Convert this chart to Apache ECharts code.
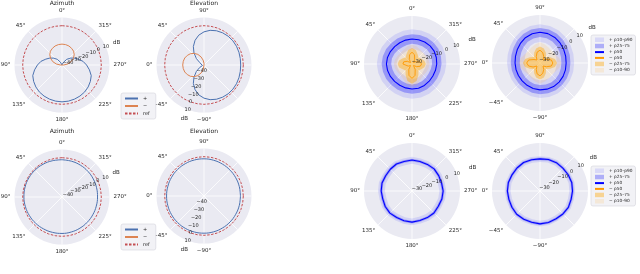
<!DOCTYPE html>
<html><head><meta charset="utf-8">
<script src="https://cdn.jsdelivr.net/npm/echarts@6/dist/echarts.min.js"></script>
<style>html,body{margin:0;padding:0;background:#fff}#c{width:640px;height:274px}</style>
</head><body><div id="c"></div>
<script>
// ---------- data ----------
const ANG10_AZ = [0,10,20,30,40,50,60,70,80,90,100,110,120,130,140,150,160,170,180,190,200,210,220,230,240,250,260,270,280,290,300,310,320,330,340,350,360];
const ANG10_EL = [-180,-170,-160,-150,-140,-130,-120,-110,-100,-90,-80,-70,-60,-50,-40,-30,-20,-10,0,10,20,30,40,50,60,70,80,90,100,110,120,130,140,150,160,170,180];
const ANG15_AZ = [0,15,30,45,60,75,90,105,120,135,150,165,180,195,210,225,240,255,270,285,300,315,330,345,360];
const ANG15_EL = [-180,-165,-150,-135,-120,-105,-90,-75,-60,-45,-30,-15,0,15,30,45,60,75,90,105,120,135,150,165,180];
const ANG_FLAT_AZ = [0,90,180,270,360];
const ANG_FLAT_EL = [-180,-90,0,90,180];
const REF_DB = 0;

// left group, top: Azimuth / Elevation
const AZ1_PLUS  = [-48,-48,-47,-44,-39,-35,-31,-27,-22,-18,-14,-10,-8,-6.3,-5,-4.2,-3.6,-3.2,-3,-3.2,-3.6,-4.2,-5,-6.3,-8,-10,-14,-18,-22,-27,-31,-35,-39,-44,-47,-48,-48];
const AZ1_MINUS = [-22.5,-22.7,-23.3,-24.5,-26,-28.5,-32,-36,-41,-46,-48,-48,-48,-48,-48,-48,-48,-48,-48,-48,-48,-48,-48,-48,-48,-48,-48,-46,-41,-36,-32,-28.5,-26,-24.5,-23.3,-22.7,-22.5];
const EL1_PLUS  = [-3.2,-3,-2.6,-2.2,-2,-2.1,-2.6,-3.5,-5,-7.5,-11,-16,-22,-29,-36,-42,-46,-48,-48,-48,-46,-42,-36,-29,-22,-16,-11,-7.5,-5,-3.5,-2.6,-2.1,-2,-2.2,-2.6,-3,-3.2];
const EL1_MINUS = [-48,-48,-48,-48,-48,-48,-48,-48,-48,-46,-42,-37.5,-33,-29.5,-26.5,-24.5,-23,-22.3,-22,-22.3,-23,-24.5,-26.5,-29.5,-33,-37.5,-42,-46,-48,-48,-48,-48,-48,-48,-48,-48,-48];
// left group, bottom
const AZ2_PLUS  = [-2.5,-2.2,-1.8,-1.5,-1.3,-1.3,-1.5,-1.8,-2.2,-2.6,-3,-3.3,-3.5,-3.8,-4.1,-4.4,-4.6,-4.7,-4.6,-4.3,-3.9,-3.5,-3.1,-2.8,-2.5];
const AZ2_MINUS = [-48,-48,-48,-48,-48];
const EL2_PLUS  = [-3.5,-3.4,-3.3,-3.1,-2.9,-2.7,-2.6,-2.5,-2.4,-2.3,-2.3,-2.3,-2.3,-2.3,-2.3,-2.3,-2.4,-2.5,-2.6,-2.8,-3,-3.2,-3.3,-3.4,-3.5];
const EL2_MINUS = [-48,-48,-48,-48,-48];

// right group, top-left (azimuth style)
const RA_B10 = [-21,-21.5,-22,-22,-21.5,-21,-20.5,-21,-21.5,-22,-22,-21.5,-21,-21,-21.5,-22,-22.5,-22,-21.5,-21,-20.5,-20.5,-21,-21,-21];
const RA_B25 = [-16,-16.5,-16.8,-16.5,-16,-15.5,-15.5,-16,-16.3,-16.5,-16.3,-16,-15.8,-16,-16.3,-16.7,-17,-16.7,-16.2,-15.8,-15.5,-15.5,-15.8,-16,-16];
const RA_B50 = [-11.5,-11.8,-12,-12,-11.6,-11.2,-11,-11.3,-11.6,-11.9,-12,-11.8,-11.5,-11.5,-11.8,-12.2,-12.4,-12.2,-11.8,-11.4,-11,-11,-11.2,-11.4,-11.5];
const RA_B75 = [-7,-7.3,-7.5,-7.4,-7,-6.7,-6.5,-6.8,-7.1,-7.4,-7.5,-7.3,-7,-7,-7.3,-7.7,-7.9,-7.7,-7.3,-6.9,-6.5,-6.5,-6.7,-6.9,-7];
const RA_B90 = [-2.5,-2.8,-3,-2.9,-2.5,-2.2,-2,-2.3,-2.6,-2.9,-3,-2.8,-2.5,-2.5,-2.8,-3.2,-3.4,-3.2,-2.8,-2.4,-2,-2,-2.2,-2.4,-2.5];
const RA_O10 = [-35,-35,-35,-35,-35,-35,-35,-35,-35,-35,-35,-35,-35,-35,-35,-35,-35,-35,-35,-35,-35,-35,-35,-35,-35];
const RA_O25 = [-35,-35,-35,-35,-35,-35,-35,-35,-35,-35,-35,-35,-35,-35,-35,-35,-35,-35,-35,-35,-35,-35,-35,-35,-35];
const RA_O50 = [-24,-26,-30,-33,-30,-27,-26.5,-28,-31,-33,-29,-24,-21.5,-24,-29,-33,-30,-27,-26,-27.5,-31,-33,-30,-26,-24];
const RA_O75 = [-20,-21.5,-24.5,-26.5,-24.5,-22.5,-21.5,-22.5,-25,-26.5,-23,-18.5,-16.5,-18.5,-23,-26.5,-25,-23,-22,-23,-25,-26.5,-24.5,-21.5,-20];
const RA_O90 = [-17,-18,-19.5,-20,-19.5,-18.5,-18,-18.5,-19.5,-20,-18.5,-15.5,-14,-15.5,-18.5,-20,-19.5,-19,-18.5,-19,-19.5,-20,-19.5,-18,-17];

// right group, top-right (elevation style)
const RB_B10 = [-19.5,-19.3,-19,-18.7,-18.5,-18.6,-18.8,-19.2,-19.8,-20.3,-20.6,-20.7,-20.6,-20.2,-19.3,-18,-16.6,-15.6,-15.2,-15.5,-16.3,-17.4,-18.4,-19.1,-19.5];
const RB_B25 = [-15,-14.8,-14.5,-14.2,-14,-14.1,-14.3,-14.7,-15.3,-15.8,-16.1,-16.2,-16.1,-15.7,-14.8,-13.5,-12.1,-11.1,-10.7,-11,-11.8,-12.9,-13.9,-14.6,-15];
const RB_B50 = [-10.5,-10.3,-10,-9.7,-9.5,-9.6,-9.8,-10.2,-10.8,-11.3,-11.6,-11.7,-11.6,-11.2,-10.3,-9,-7.6,-6.6,-6.2,-6.5,-7.3,-8.4,-9.4,-10.1,-10.5];
const RB_B75 = [-6.5,-6.3,-6,-5.7,-5.5,-5.6,-5.8,-6.2,-6.8,-7.3,-7.6,-7.7,-7.6,-7.2,-6.3,-5,-3.6,-2.6,-2.2,-2.5,-3.3,-4.4,-5.4,-6.1,-6.5];
const RB_B90 = [-3,-2.8,-2.5,-2.2,-2,-2.1,-2.3,-2.7,-3.3,-3.8,-4.1,-4.2,-4.1,-3.7,-2.8,-1.5,-0.1,0.9,1.3,1,0.2,-0.9,-1.9,-2.6,-3];
const RB_O10 = [-35,-35,-35,-35,-35,-35,-35,-35,-35,-35,-35,-35,-35,-35,-35,-35,-35,-35,-35,-35,-35,-35,-35,-35,-35];
const RB_O25 = [-35,-35,-35,-35,-35,-35,-35,-35,-35,-35,-35,-35,-35,-35,-35,-35,-35,-35,-35,-35,-35,-35,-35,-35,-35];
const RB_O50 = [-23,-24,-28,-31,-28,-25,-23,-24.5,-28,-31,-27.5,-24,-22.5,-24,-28.5,-31,-28,-24.5,-23,-25,-28,-31,-28,-24,-23];
const RB_O75 = [-19,-20.5,-24,-27,-24,-21,-19.5,-21,-24,-27,-24,-20.5,-19,-20.5,-24,-27,-24,-21,-19.5,-21,-24,-27,-24,-20.5,-19];
const RB_O90 = [-15,-16.5,-18.5,-19.5,-18.5,-17,-15.5,-17,-18.5,-19.5,-18.5,-16.5,-15,-16.5,-18.5,-19.5,-18.5,-17,-15.5,-17,-18.5,-19.5,-18.5,-16.5,-15];

// right group, bottom-left (azimuth style)
const RC_B10 = [-9.5,-9.9,-9.3,-9.7,-10,-9.4,-9.6,-10.1,-9.5,-9.2,-9.8,-9.6,-9.3,-9.9,-9.7,-9.4,-10,-9.5,-9.3,-9.8,-9.6,-9.2,-9.7,-9.9,-9.5];
const RC_B25 = [-7.3,-7.7,-7.1,-7.5,-7.8,-7.2,-7.4,-7.9,-7.3,-7,-7.6,-7.4,-7.1,-7.7,-7.5,-7.2,-7.8,-7.3,-7.1,-7.6,-7.4,-7,-7.5,-7.7,-7.3];
const RC_B50 = [-6,-6.4,-5.8,-6.2,-6.5,-5.9,-6.1,-6.6,-6,-5.7,-6.3,-6.1,-5.8,-6.4,-6.2,-5.9,-6.5,-6,-5.8,-6.3,-6.1,-5.7,-6.2,-6.4,-6];
const RC_B75 = [-4.7,-5.1,-4.5,-4.9,-5.2,-4.6,-4.8,-5.3,-4.7,-4.4,-5,-4.8,-4.5,-5.1,-4.9,-4.6,-5.2,-4.7,-4.5,-5,-4.8,-4.4,-4.9,-5.1,-4.7];
const RC_B90 = [-3,-3.4,-2.8,-3.2,-3.5,-2.9,-3.1,-3.6,-3,-2.7,-3.3,-3.1,-2.8,-3.4,-3.2,-2.9,-3.5,-3,-2.8,-3.3,-3.1,-2.7,-3.2,-3.4,-3];
const RC_O = [-35,-35,-35,-35,-35];

// right group, bottom-right (elevation style)
const RD_B10 = [-7.5,-7.8,-7.3,-7.6,-7.9,-7.4,-7.2,-7.7,-7.5,-7.1,-7.6,-7.8,-7.4,-7.3,-7.7,-7.5,-7.2,-7.6,-7.9,-7.4,-7.3,-7.7,-7.5,-7.2,-7.5];
const RD_B25 = [-5.7,-6,-5.5,-5.8,-6.1,-5.6,-5.4,-5.9,-5.7,-5.3,-5.8,-6,-5.6,-5.5,-5.9,-5.7,-5.4,-5.8,-6.1,-5.6,-5.5,-5.9,-5.7,-5.4,-5.7];
const RD_B50 = [-4.5,-4.8,-4.3,-4.6,-4.9,-4.4,-4.2,-4.7,-4.5,-4.1,-4.6,-4.8,-4.4,-4.3,-4.7,-4.5,-4.2,-4.6,-4.9,-4.4,-4.3,-4.7,-4.5,-4.2,-4.5];
const RD_B75 = [-3.3,-3.6,-3.1,-3.4,-3.7,-3.2,-3,-3.5,-3.3,-2.9,-3.4,-3.6,-3.2,-3.1,-3.5,-3.3,-3,-3.4,-3.7,-3.2,-3.1,-3.5,-3.3,-3,-3.3];
const RD_B90 = [-2,-2.3,-1.8,-2.1,-2.4,-1.9,-1.7,-2.2,-2,-1.6,-2.1,-2.3,-1.9,-1.8,-2.2,-2,-1.7,-2.1,-2.4,-1.9,-1.8,-2.2,-2,-1.7,-2];
const RD_O = [-35,-35,-35,-35,-35];

const TITLES = ['Azimuth','Elevation','Azimuth','Elevation'];
const LEFT_NAMES = ['+','\u2212','ref'];
const RIGHT_NAMES = ['+ p10\u2013p90','+ p25\u201375','+ p50','\u2212 p50','\u2212 p25\u201375','\u2212 p10\u201390'];

// ---------- styling ----------
const TXT = '#262626';
const FONT = 'DejaVu Sans';
const C_PLUS = '#4c72b0', C_MINUS = '#dd8452', C_REF = '#c44e52';
const C_B = '#0000ff', C_O = '#ff9900';
const C_B90 = 'rgba(0,0,255,0.10)', C_B75 = 'rgba(0,0,255,0.28)';
const C_O75 = 'rgba(255,165,0,0.40)', C_O90 = 'rgba(255,180,60,0.16)';

const polars = [], angleAxes = [], radiusAxes = [], series = [];
const fmtAz = v => v >= 360 ? '' : v + '\u00b0';
const fmtEl = v => Math.abs(v) > 90 ? '' : (v < 0 ? '\u2212' + (-v) : v) + '\u00b0';
const fmtR = v => (Math.round(v) % 10 !== 0) ? '' : (v < 0 ? '\u2212' + (-v) : String(v));

function addPlot(cfg) {
  const el = cfg.el;
  const pi = polars.length;
  polars.push({center: [cfg.cx, cfg.cy], radius: cfg.R});
  angleAxes.push({polarIndex: pi, type: 'value', min: el ? -180 : 0, max: el ? 180 : 360, interval: 45,
    startAngle: el ? 0 : 90, clockwise: el, axisLine: {show: false}, axisTick: {show: false},
    axisLabel: {fontSize: 5.5, color: TXT, margin: 4, fontFamily: FONT, formatter: el ? fmtEl : fmtAz},
    splitLine: {show: true, lineStyle: {color: '#ffffff', width: 0.8}}});
  radiusAxes.push({polarIndex: pi, type: 'value', min: cfg.rmin, max: cfg.rmax, splitNumber: cfg.split,
    axisLine: {show: false}, axisTick: {show: false}, axisLabel: {show: false},
    splitLine: {show: true, lineStyle: {color: '#ffffff', width: 0.8}},
    splitArea: {show: true, areaStyle: {color: ['#eaeaf2']}}});
  const li = polars.length;
  polars.push({center: [cfg.cx, cfg.cy], radius: cfg.R});
  angleAxes.push({polarIndex: li, type: 'value', min: 0, max: 360, startAngle: cfg.labAng, show: false});
  radiusAxes.push({polarIndex: li, type: 'value', min: cfg.rmin, max: cfg.rmax, splitNumber: cfg.split, z: 20,
    axisLine: {show: false}, axisTick: {show: false}, splitLine: {show: false},
    axisLabel: {fontSize: 5, color: TXT, fontFamily: FONT, margin: 0, align: 'center', verticalAlign: 'middle',
      showMinLabel: false, formatter: fmtR},
    name: 'dB', nameLocation: 'end', nameGap: cfg.nameGap,
    nameTextStyle: {fontSize: 5.5, color: TXT, fontFamily: FONT, align: 'center', verticalAlign: 'middle'}});
  return pi;
}
function pairs(vals, angs) { return vals.map((v, i) => [v, angs[i]]); }
function lineS(name, pi, angs, vals, color, extra) {
  return Object.assign({type: 'line', name, coordinateSystem: 'polar', polarIndex: pi, data: pairs(vals, angs),
    symbol: 'none', showSymbol: false, lineStyle: {color, width: 1}, itemStyle: {color}, silent: true, z: 6}, extra || {});
}
function bandS(name, pi, angs, lo, hi, color, z) {
  return {type: 'custom', name, coordinateSystem: 'polar', polarIndex: pi, silent: true, z,
    itemStyle: {color}, data: [[hi[0], angs[0]]],
    renderItem(params, api) {
      const pts = [];
      for (let i = 0; i < angs.length; i++) pts.push(api.coord([hi[i], angs[i]]));
      for (let i = angs.length - 1; i >= 0; i--) pts.push(api.coord([lo[i], angs[i]]));
      return {type: 'polygon', shape: {points: pts}, style: {fill: color, stroke: null}};
    }};
}

// left group
const L = {rmin: -48, rmax: 10, split: 6, R: 47.5};
const p0 = addPlot(Object.assign({cx: 62, cy: 65, el: false, labAng: 22.5, nameGap: 9.5}, L));
const p1 = addPlot(Object.assign({cx: 204, cy: 65, el: true, labAng: 250, nameGap: 9.5}, L));
const p2 = addPlot(Object.assign({cx: 62, cy: 197, el: false, labAng: 24, nameGap: 9.5}, L));
const p3 = addPlot(Object.assign({cx: 204, cy: 196, el: true, labAng: 250, nameGap: 9.5}, L));
// right group
const Rg = {rmin: -35, rmax: 10, split: 5, R: 48};
const q0 = addPlot(Object.assign({cx: 412, cy: 64, el: false, labAng: 22.5, nameGap: 17}, Rg));
const q1 = addPlot(Object.assign({cx: 540, cy: 63, el: true, labAng: 34, nameGap: 15}, Rg));
const q2 = addPlot(Object.assign({cx: 412, cy: 191, el: false, labAng: 21, nameGap: 17}, Rg));
const q3 = addPlot(Object.assign({cx: 540, cy: 191, el: true, labAng: 32, nameGap: 15}, Rg));

function refVals(angs) { return angs.map(() => REF_DB); }
const dashed = {lineStyle: {color: C_REF, width: 1, type: [2.5, 1.5]}};
// left series
series.push(lineS('+', p0, ANG10_AZ, AZ1_PLUS, C_PLUS));
series.push(lineS('\u2212', p0, ANG10_AZ, AZ1_MINUS, C_MINUS));
series.push(lineS('ref', p0, ANG10_AZ, refVals(ANG10_AZ), C_REF, dashed));
series.push(lineS('+', p1, ANG10_EL, EL1_PLUS, C_PLUS));
series.push(lineS('\u2212', p1, ANG10_EL, EL1_MINUS, C_MINUS));
series.push(lineS('ref', p1, ANG10_EL, refVals(ANG10_EL), C_REF, dashed));
series.push(lineS('+', p2, ANG15_AZ, AZ2_PLUS, C_PLUS, {smooth: 0.4}));
series.push(lineS('\u2212', p2, ANG_FLAT_AZ, AZ2_MINUS, C_MINUS));
series.push(lineS('ref', p2, ANG10_AZ, refVals(ANG10_AZ), C_REF, dashed));
series.push(lineS('+', p3, ANG15_EL, EL2_PLUS, C_PLUS, {smooth: 0.4}));
series.push(lineS('\u2212', p3, ANG_FLAT_EL, EL2_MINUS, C_MINUS));
series.push(lineS('ref', p3, ANG10_EL, refVals(ANG10_EL), C_REF, dashed));

// right series
function addRight(pi, angs, b10, b25, b50, b75, b90, oangs, o10, o25, o50, o75, o90) {
  series.push(bandS(RIGHT_NAMES[0], pi, angs, b10, b90, C_B90, 2));
  series.push(bandS(RIGHT_NAMES[1], pi, angs, b25, b75, C_B75, 3));
  series.push(bandS(RIGHT_NAMES[5], pi, oangs, o10, o90, C_O90, 4));
  series.push(bandS(RIGHT_NAMES[4], pi, oangs, o25, o75, C_O75, 4));
  series.push(lineS(RIGHT_NAMES[2], pi, angs, b50, C_B, {lineStyle: {color: C_B, width: 1.1}}));
  series.push(lineS(RIGHT_NAMES[3], pi, oangs, o50, C_O, {lineStyle: {color: C_O, width: 0.9}}));
}
addRight(q0, ANG15_AZ, RA_B10, RA_B25, RA_B50, RA_B75, RA_B90, ANG15_AZ, RA_O10, RA_O25, RA_O50, RA_O75, RA_O90);
addRight(q1, ANG15_EL, RB_B10, RB_B25, RB_B50, RB_B75, RB_B90, ANG15_EL, RB_O10, RB_O25, RB_O50, RB_O75, RB_O90);
addRight(q2, ANG15_AZ, RC_B10, RC_B25, RC_B50, RC_B75, RC_B90, ANG_FLAT_AZ, RC_O, RC_O, RC_O, RC_O, RC_O);
addRight(q3, ANG15_EL, RD_B10, RD_B25, RD_B50, RD_B75, RD_B90, ANG_FLAT_EL, RD_O, RD_O, RD_O, RD_O, RD_O);

const legLeft = {orient: 'vertical', itemWidth: 13, itemHeight: 5, itemGap: 2.5, padding: [3, 6, 3, 3],
  textStyle: {fontSize: 5, color: TXT, fontFamily: FONT}, backgroundColor: '#f2f2f6',
  borderColor: '#d4d4dc', borderWidth: 0.6, borderRadius: 2, selectedMode: false,
  itemStyle: {opacity: 0}};
const legRight = {orient: 'vertical', itemWidth: 9, itemHeight: 4.5, itemGap: 1.8, padding: [2.5, 3, 2.5, 3],
  textStyle: {fontSize: 4.3, color: TXT, fontFamily: FONT}, backgroundColor: '#f2f2f6',
  borderColor: '#d4d4dc', borderWidth: 0.6, borderRadius: 2, selectedMode: false};
const leftLegData = LEFT_NAMES.map(n => ({name: n}));
const rightLegData = RIGHT_NAMES.map((n, i) => (i === 2 || i === 3) ? {name: n, itemStyle: {opacity: 0}} : {name: n, icon: 'rect'});

const titleGraphics = [[62, 3.5], [204, 3.5], [62, 131], [204, 131]].map((p, i) => ({
  type: 'text', x: p[0], y: p[1], silent: true,
  style: {text: TITLES[i], align: 'center', verticalAlign: 'middle', fontSize: 6, fill: TXT, fontFamily: FONT}}));

const chart = echarts.init(document.getElementById('c'), null, {renderer: 'canvas'});
chart.setOption({
  animation: false,
  textStyle: {fontFamily: FONT},
  polar: polars, angleAxis: angleAxes, radiusAxis: radiusAxes,
  legend: [
    Object.assign({left: 121, top: 93, data: leftLegData}, legLeft),
    Object.assign({left: 121, top: 224, data: leftLegData}, legLeft),
    Object.assign({left: 591, top: 35, data: rightLegData}, legRight),
    Object.assign({left: 591, top: 166, data: rightLegData}, legRight)
  ],
  graphic: titleGraphics,
  series
});
</script></body></html>
